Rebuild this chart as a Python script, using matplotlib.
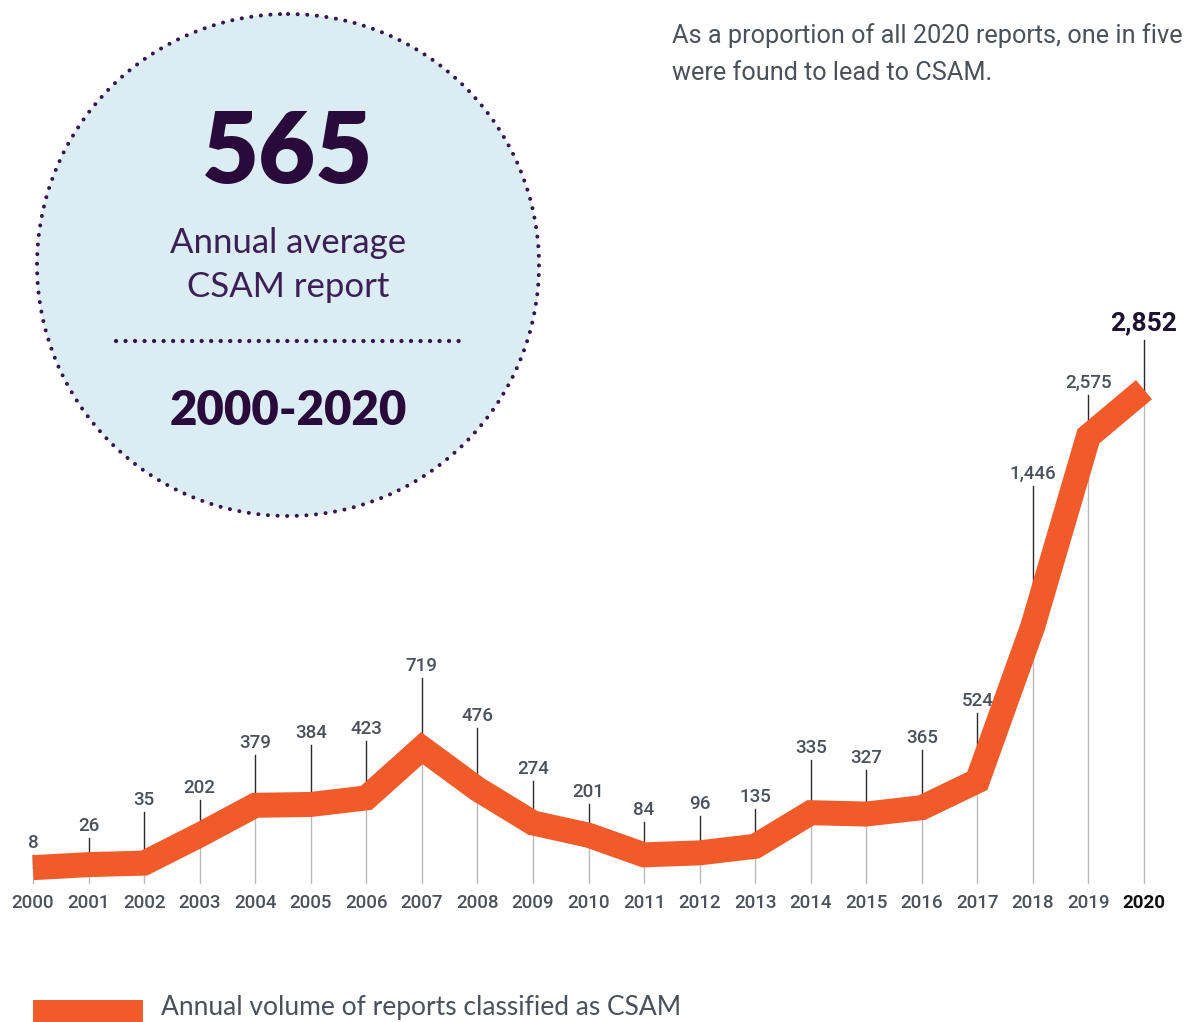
import matplotlib
matplotlib.use("Agg")
import matplotlib.pyplot as plt
from matplotlib.patches import Circle, Rectangle
from matplotlib.transforms import blended_transform_factory

# ---------------- data ----------------
years = list(range(2000, 2021))
values = [8, 26, 35, 202, 379, 384, 423, 719, 476, 274, 201,
          84, 96, 135, 335, 327, 365, 524, 1446, 2575, 2852]
value_labels = [f"{v:,}" for v in values]
year_labels = [str(y) for y in years]
headline_value = "565"
headline_text = ["Annual average", "CSAM report"]
headline_period = "2000-2020"
intro_text = ["As a proportion of all 2020 reports, one in five",
              "were found to lead to CSAM."]
legend_text = "Annual volume of reports classified as CSAM"

# ---------------- layout (pixel rows of the value labels) ----------------
label_rows = [843, 826, 800, 788, 743, 733, 729, 666, 716, 769, 792,
              810, 804, 797, 748, 758, 738, 701, 474, 383, 323]

W, H = 1184, 1022
ORANGE = "#f15a29"
GREY_TXT = "#4b5059"
PURPLE = "#2a0a3a"
DOT = "#35164d"

fig = plt.figure(figsize=(W / 100, H / 100), dpi=100)
fig.patch.set_facecolor("white")

# pixel-space decoration axes
deco = fig.add_axes([0, 0, 1, 1], zorder=0)
deco.set_xlim(0, W)
deco.set_ylim(H, 0)
deco.axis("off")

# data axes
ax = fig.add_axes([0, 0, 1, 1], zorder=1)
px_per_year = (1144 - 33) / 20
ax.set_xlim(2000 - 33 / px_per_year, 2000 + (W - 33) / px_per_year)
k = (869 - 391) / (2852 - 8)
ax.set_ylim(-(H - 869) / k, 869 / k)
ax.axis("off")
ax.patch.set_alpha(0)

blend = blended_transform_factory(ax.transData, deco.transData)


def val_to_row(v):
    disp = ax.transData.transform((2000, v))
    return deco.transData.inverted().transform(disp)[1]


# ---------------- circle ----------------
circ = Circle((288, 265), 251, facecolor="#dbedf3", edgecolor=DOT,
              linewidth=2.9, linestyle=(0, (0.01, 2.38)), zorder=1)
circ.set_capstyle("round")
deco.add_patch(circ)

deco.text(288, 154, headline_value, ha="center", va="center", fontsize=71,
          fontweight="heavy", family="Lato", color=PURPLE, zorder=2)
deco.text(288, 243, headline_text[0], ha="center", va="center", fontsize=25,
          fontweight="normal", family="Lato", color="#3b1f55", zorder=2)
deco.text(288, 287, headline_text[1], ha="center", va="center", fontsize=25,
          fontweight="normal", family="Lato", color="#3b1f55", zorder=2)
deco.plot([116, 460], [341, 341], color=DOT, linewidth=3.1,
          linestyle=(0, (0.01, 2.2)), solid_capstyle="round",
          dash_capstyle="round", zorder=2)
deco.text(288, 411, headline_period, ha="center", va="center", fontsize=34,
          fontweight="heavy", family="Lato", color=PURPLE, zorder=2)

# ---------------- intro text ----------------
deco.text(672, 36, intro_text[0], ha="left", va="center", fontsize=18.2,
          family="Roboto", color=GREY_TXT)
deco.text(672, 73, intro_text[1], ha="left", va="center", fontsize=18.2,
          family="Roboto", color=GREY_TXT)

# ---------------- chart ----------------
base_row = 883
for i, (yr, v) in enumerate(zip(years, values)):
    vr = val_to_row(v)
    ax.plot([yr, yr], [base_row, vr], transform=blend, color="#b9b9b9",
            linewidth=1.0, zorder=2)
    top = label_rows[i] + (17 if i == len(years) - 1 else 12)
    ax.plot([yr, yr], [vr, top], transform=blend, color="#2b2b2b",
            linewidth=1.0, zorder=2)
    if i == len(years) - 1:
        ax.text(yr, label_rows[i], value_labels[i], transform=blend,
                ha="center", va="center", fontsize=19, fontweight="bold",
                family="Roboto", color="#1e1330", zorder=4)
        ax.text(yr, 903, year_labels[i], transform=blend, ha="center",
                va="center", fontsize=13.5, fontweight="bold",
                family="Roboto", color="#111111", zorder=4)
    else:
        ax.text(yr, label_rows[i], value_labels[i], transform=blend,
                ha="center", va="center", fontsize=13.5, fontweight="medium",
                family="Roboto", color=GREY_TXT, zorder=4)
        ax.text(yr, 903, year_labels[i], transform=blend, ha="center",
                va="center", fontsize=13.5, fontweight="medium",
                family="Roboto", color=GREY_TXT, zorder=4)

ax.plot(years, values, color=ORANGE, linewidth=18, solid_joinstyle="miter",
        solid_capstyle="butt", zorder=3)

# ---------------- legend ----------------
deco.add_patch(Rectangle((33, 1000), 110, 30, facecolor=ORANGE,
                         edgecolor="none", zorder=2))
deco.text(161, 1015, legend_text, ha="left", va="baseline", fontsize=19,
          fontweight="normal", family="Lato", color=GREY_TXT, zorder=2)

fig.savefig("out.png", dpi=100, facecolor="white")
